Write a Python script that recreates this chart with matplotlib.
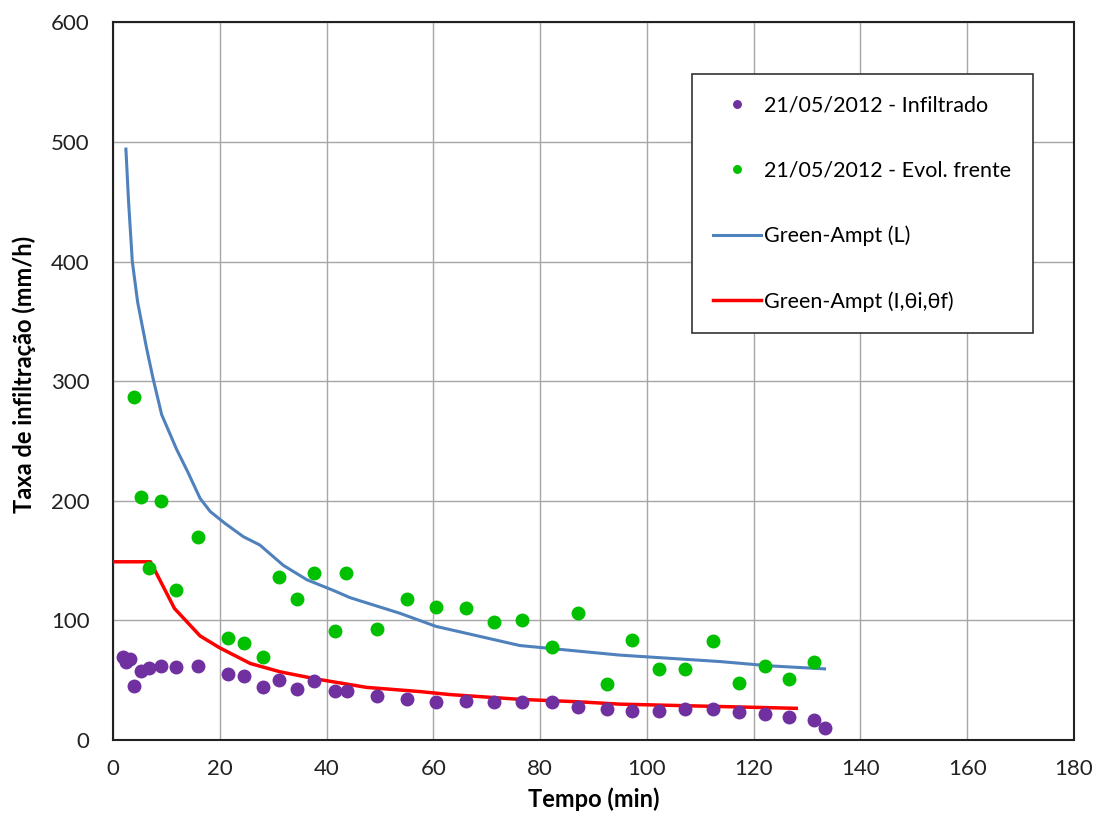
import matplotlib
matplotlib.use('Agg')
import matplotlib.pyplot as plt

plt.rcParams['font.family'] = ['Lato', 'DejaVu Sans']

# 21/05/2012 - Infiltrado
inf_t = [1.8, 2.4, 3.1, 4.0, 5.2, 6.8, 8.9, 11.8, 16.0, 21.6, 24.6, 28.0, 31.1, 34.4, 37.6,
         41.6, 43.8, 49.4, 55.0, 60.5, 66.1, 71.3, 76.6, 82.3, 87.1, 92.5, 97.3, 102.2,
         107.2, 112.4, 117.2, 122.1, 126.6, 131.3, 133.3]
inf_v = [69, 65, 67.6, 45.5, 58, 60.5, 62, 61, 62, 55, 53.6, 44, 50, 42.7, 49.7,
         41.3, 41.3, 37, 34.3, 31.5, 33, 31.5, 31.5, 31.5, 28, 26, 24.6, 24.6,
         26, 26, 23.2, 22, 19.5, 16.7, 9.8]

# 21/05/2012 - Evol. frente
fr_t = [4.0, 5.2, 6.8, 8.9, 11.8, 16.0, 21.6, 24.6, 28.0, 31.1, 34.4, 37.6, 41.6, 43.6,
        49.4, 55.0, 60.5, 66.1, 71.3, 76.6, 82.3, 87.1, 92.5, 97.3, 102.2, 107.2, 112.4,
        117.2, 122.1, 126.6, 131.3]
fr_v = [287, 203, 144, 200, 125, 170, 85, 81, 69, 136, 118, 140, 91, 140,
        93, 118, 111, 110, 99, 100, 78, 106, 47, 84, 59, 59, 83,
        48, 62, 51, 65]

# Green-Ampt (L)
gaL_t = [2.4, 2.9, 3.6, 4.6, 6.3, 7.5, 9.1, 11.9, 14.0, 16.3, 18.2, 21.0, 24.4, 27.5, 31.9, 36.3,
         41.3, 44.4, 53.7, 60.5, 76.2, 94.9, 113.7, 123.0, 133.3]
gaL_v = [494, 450, 400, 366, 327, 302, 272, 243, 224, 202, 191, 181, 170, 163, 146, 134,
         125, 119, 106, 95, 79, 71, 65.6, 62, 59.5]

# Green-Ampt (I, θi, θf)
gaI_t = [0, 7.0, 11.5, 16.3, 20.0, 25.7, 31.3, 38.1, 47.5, 57.5, 63.1, 76.2, 87.0, 94.9, 113.7, 128.0]
gaI_v = [149, 149, 110, 87, 77, 64, 57, 51, 44, 40.5, 38, 34, 32, 30, 28, 26.5]

fig = plt.figure(figsize=(10.98, 8.25), dpi=100)
ax = fig.add_axes([0.103, 0.103, 0.875, 0.870])

ax.plot(inf_t, inf_v, linestyle='None', marker='o', ms=9, color='#7030A0',
        label='21/05/2012 - Infiltrado', zorder=4)
ax.plot(fr_t, fr_v, linestyle='None', marker='o', ms=9, color='#00C000',
        label='21/05/2012 - Evol. frente', zorder=4)
ax.plot(gaL_t, gaL_v, color='#4F81BD', lw=2.2, label='Green-Ampt (L)', zorder=3)
ax.plot(gaI_t, gaI_v, color='#FF0000', lw=2.5, label='Green-Ampt (I,\u03b8i,\u03b8f)', zorder=3)

ax.set_xlim(0, 180)
ax.set_ylim(0, 600)
ax.set_xticks(range(0, 181, 20))
ax.set_yticks(range(0, 601, 100))
ax.grid(color='#A6A6A6', linewidth=1)
ax.set_axisbelow(True)
ax.tick_params(length=0, labelsize=16, colors='#222222')
ax.tick_params(axis='x', pad=14)
ax.tick_params(axis='y', pad=17)
for s in ax.spines.values():
    s.set_linewidth(1.5)
    s.set_color('#222222')

ax.set_xlabel('Tempo (min)', fontsize=17, fontweight='bold', labelpad=6)
ax.set_ylabel('Taxa de infiltração (mm/h)', fontsize=17, fontweight='bold', labelpad=10)
ax.yaxis.set_label_coords(-0.08, 0.51)

leg = ax.legend(loc='upper left', bbox_to_anchor=(0.6025, 0.9276), fontsize=15.5,
                frameon=True, fancybox=False, edgecolor='#333333', framealpha=1,
                labelspacing=2.09, borderpad=1.0, handlelength=2.2, handletextpad=0.15,
                markerscale=0.6, borderaxespad=0)
leg.get_frame().set_linewidth(1.2)

fig.savefig('out.png', dpi=100)
